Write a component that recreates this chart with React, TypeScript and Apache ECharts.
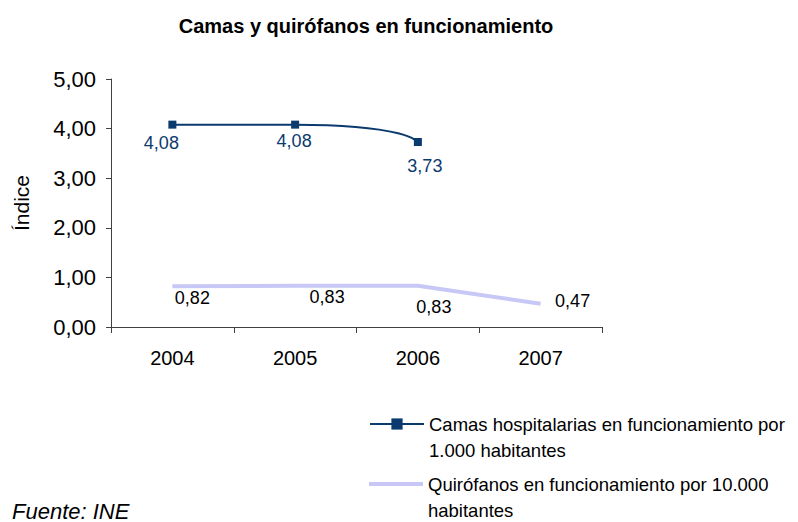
import React, { useEffect, useRef } from "react";
import * as echarts from "echarts";

const years = ["2004", "2005", "2006", "2007"];
const camas: (number | null)[] = [4.08, 4.08, 3.73, null];
const quirofanos: number[] = [0.82, 0.83, 0.83, 0.47];
const yTicks = [0, 1, 2, 3, 4, 5];

const camasName = "Camas hospitalarias en funcionamiento por 1.000 habitantes";
const quirName = "Quirófanos en funcionamiento por 10.000 habitantes";

const camasOffsets = [[-11, 2], [-1, 0], [7, 8], [0, 0]];
const quirOffsets = [[20, 0], [32, -1], [16, 9], [32, -15]];

const FONT = "'Liberation Sans', Arial, sans-serif";
const NAVY = "#0B3A6E";
const LAV = "#C8C8F6";

const fmt = (v: number) => v.toFixed(2).replace(".", ",");

const legendText: Record<string, string> = {
  [camasName]: " \nCamas hospitalarias en funcionamiento por\n1.000 habitantes",
  [quirName]: " \nQuirófanos en funcionamiento por 10.000\nhabitantes",
};

export default function App() {
  const ref = useRef<HTMLDivElement>(null);
  useEffect(() => {
    if (!ref.current) return;
    const chart = echarts.init(ref.current, null, { renderer: "svg" });
    const legendCommon = {
      orient: "vertical",
      left: 369,
      padding: 0,
      itemWidth: 54,
      textStyle: {
        fontFamily: FONT,
        fontSize: 18.5,
        color: "#000",
        lineHeight: 26,
      },
      formatter: (name: string) => legendText[name] || name,
    };
    chart.setOption({
      animation: false,
      backgroundColor: "#fff",
      title: {
        text: "Camas y quirófanos en funcionamiento",
        left: 361,
        textAlign: "center",
        top: 11,
        textStyle: { fontFamily: FONT, fontWeight: "bold", fontSize: 20, color: "#000" },
      },
      grid: { left: 111, right: 196, top: 79, bottom: 195, containLabel: false },
      xAxis: {
        type: "category",
        data: years,
        boundaryGap: true,
        axisLine: { lineStyle: { color: "#404040", width: 1 } },
        axisTick: { show: true, length: 6, lineStyle: { color: "#404040" } },
        axisLabel: { fontFamily: FONT, fontSize: 20, color: "#000", margin: 21 },
      },
      yAxis: {
        type: "value",
        min: 0,
        max: 5,
        interval: 1,
        name: "Índice",
        nameLocation: "middle",
        nameGap: 79,
        nameRotate: 90,
        nameTextStyle: { fontFamily: FONT, fontSize: 21, color: "#000" },
        splitLine: { show: false },
        axisLine: { show: true, lineStyle: { color: "#404040", width: 1 } },
        axisTick: { show: true, length: 5, lineStyle: { color: "#404040" } },
        axisLabel: {
          fontFamily: FONT,
          fontSize: 22,
          color: "#000",
          margin: 15,
          formatter: (v: number) => (yTicks.includes(v) ? fmt(v) : ""),
        },
      },
      legend: [
        { ...legendCommon, top: 385, itemHeight: 14, data: [camasName] },
        {
          ...legendCommon,
          top: 445,
          itemHeight: 4,
          data: [{ name: quirName, icon: "rect" }],
        },
      ],
      series: [
        {
          name: camasName,
          type: "line",
          smooth: 0.9,
          data: camas.map((v, i) => ({
            value: v,
            label: { offset: camasOffsets[i] },
          })),
          symbol: "rect",
          symbolSize: 8,
          itemStyle: { color: NAVY },
          lineStyle: { color: NAVY, width: 2 },
          label: {
            show: true,
            position: "bottom",
            distance: 3,
            fontFamily: FONT,
            fontSize: 18,
            color: NAVY,
            formatter: (p: any) => fmt(p.value),
          },
        },
        {
          name: quirName,
          type: "line",
          data: quirofanos.map((v, i) => ({
            value: v,
            label: { offset: quirOffsets[i] },
          })),
          symbol: "circle",
          symbolSize: 0.1,
          itemStyle: { color: LAV },
          lineStyle: { color: LAV, width: 4 },
          label: {
            show: true,
            position: "bottom",
            distance: 3,
            fontFamily: FONT,
            fontSize: 18,
            color: "#000",
            formatter: (p: any) => fmt(p.value),
          },
        },
      ],
      graphic: [
        {
          type: "text",
          left: 12,
          top: 500,
          style: {
            text: "Fuente: INE",
            fontFamily: FONT,
            fontStyle: "italic",
            fontSize: 22,
            fill: "#000",
          },
        },
      ],
    });
    return () => chart.dispose();
  }, []);
  return (
    <div
      ref={ref}
      style={{ position: "absolute", left: 0, top: 0, width: 798, height: 522 }}
    />
  );
}
